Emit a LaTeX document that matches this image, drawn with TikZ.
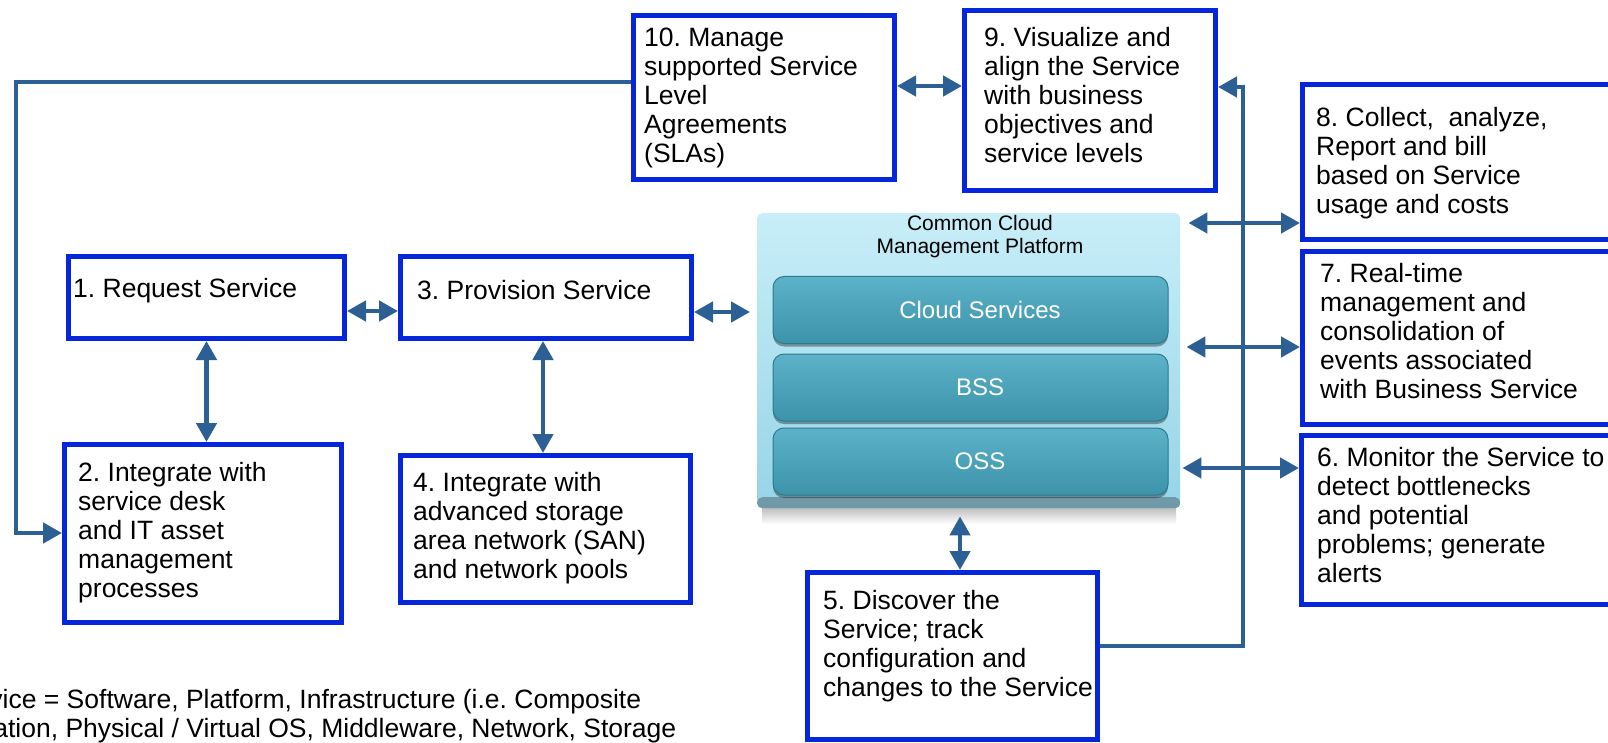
\documentclass[tikz,border=0pt]{standalone}
\usepackage{fontspec}
\setmainfont{Liberation Sans}
\usetikzlibrary{arrows.meta,shadows}
\definecolor{boxblue}{RGB}{5,38,218}
\definecolor{linkblue}{RGB}{44,96,148}
\definecolor{platlight}{RGB}{200,238,248}
\definecolor{platmain}{RGB}{150,212,232}
\definecolor{bandtop}{RGB}{142,196,212}
\definecolor{bandbot}{RGB}{112,152,166}
\definecolor{bartop}{RGB}{92,178,200}
\definecolor{barbot}{RGB}{60,147,170}
\definecolor{baredge}{RGB}{48,122,142}
\begin{document}
\frenchspacing
\begin{tikzpicture}[x=1pt,y=-1pt,
  >={Triangle[length=19pt,width=20pt]},
  box/.style={draw=boxblue, line width=5pt, fill=white, inner sep=0pt, anchor=north west},
  txt/.style={anchor=north west, inner sep=0pt, align=left, font=\fontsize{26.5}{29}\selectfont},
  conn/.style={draw=linkblue, line width=4.5pt},
  bar/.style={rounded corners=11pt, minimum width=395pt, minimum height=67pt, inner sep=0pt,
    top color=bartop, bottom color=barbot, draw=baredge, line width=1pt,
    drop shadow={shadow xshift=0pt, shadow yshift=-3pt, opacity=.35, fill=black}},
  barlab/.style={text=white, inner sep=0pt, font=\fontsize{24}{28}\selectfont}
]
\useasboundingbox (0,0) rectangle (1608,743);
\clip (0,0) rectangle (1608,743);
\fill[white] (0,0) rectangle (1608,743);

% platform
\shade[top color=black!25, bottom color=white] (762,508) rectangle (1176,524);
\node[anchor=north west, minimum width=423pt, minimum height=295pt, inner sep=0pt,
  rounded corners=5pt, top color=platlight, bottom color=platmain,
  path picture={\shade[top color=bandtop, bottom color=bandbot]
    ([yshift=11pt]path picture bounding box.south west) rectangle (path picture bounding box.south east);}]
  (plat) at (757,213) {};
\node[align=center, inner sep=0pt, font=\fontsize{21}{23}\selectfont] (ptitle) at (980,237) {Common Cloud\\Management Platform};
\node[bar] (cs) at (970.5,310) {};
\node[bar] (bss) at (970.5,387.5) {};
\node[bar] (oss) at (970.5,461.5) {};
\node[barlab] (lcs) at ([xshift=9.5pt]cs.center) {Cloud Services};
\node[barlab] (lbss) at ([xshift=9.5pt]bss.center) {BSS};
\node[barlab] (loss) at ([xshift=9.5pt]oss.center) {OSS};

% boxes
\node[box, minimum width=261pt, minimum height=164pt] (b10) at (631,13) {};
\node[box, minimum width=251pt, minimum height=180pt] (b9) at (962,8) {};
\node[box, minimum width=335pt, minimum height=155pt] (b8) at (1300,82) {};
\node[box, minimum width=335pt, minimum height=173pt] (b7) at (1300,249) {};
\node[box, minimum width=336pt, minimum height=169pt] (b6) at (1299,433) {};
\node[box, minimum width=276pt, minimum height=82pt] (b1) at (66,254) {};
\node[box, minimum width=291pt, minimum height=82pt] (b3) at (398,254) {};
\node[box, minimum width=277pt, minimum height=178pt] (b2) at (62,442) {};
\node[box, minimum width=290pt, minimum height=147pt] (b4) at (398,453) {};
\node[box, minimum width=290pt, minimum height=167pt] (b5) at (805,570) {};

% texts
\node[txt] (t10) at (644,28) {10. Manage\\supported Service\\Level\\Agreements\\(SLAs)};
\node[txt] (t9) at (984,27) {9. Visualize and\\align the Service\\with business\\objectives and\\service levels};
\node[txt] (t8) at (1316,107) {8. Collect,\ \ analyze,\\Report and bill\\based on Service\\usage and costs};
\node[txt] (t7) at (1320,263) {7. Real-time\\management and\\consolidation of\\events associated\\with Business Service};
\node[txt] (t6) at (1317,447) {6. Monitor the Service to\\detect bottlenecks\\and potential\\problems; generate\\alerts};
\node[txt] (t1) at (73,278) {1. Request Service};
\node[txt] (t3) at (417,280) {3. Provision Service};
\node[txt] (t2) at (78,462) {2. Integrate with\\service desk\\and IT asset\\management\\processes};
\node[txt] (t4) at (413,472) {4. Integrate with\\advanced storage\\area network (SAN)\\and network pools};
\node[txt] (t5) at (823,590) {5. Discover the\\Service; track\\configuration and\\changes to the Service};
\node[txt] (foot) at (-52,689) {Service = Software, Platform, Infrastructure (i.e. Composite\\\hspace*{-27pt}Application, Physical / Virtual OS, Middleware, Network, Storage};

% connectors
\coordinate (lc) at (16,533);
\coordinate (rc) at (1243,87);
\draw[conn,->] (b10.west |- 0,82) -| (lc) -- (b2.west |- lc);
\draw[conn,<->] (b10.east |- 0,86) -- (b9.west |- 0,86);
\draw[conn,<->] (b1.east |- 0,311) -- (b3.west |- 0,311);
\draw[conn,<->,shorten >=7pt] (b3.east |- 0,312) -- (plat.west |- 0,312);
\draw[conn,<->] (b1.south) -- (b2.north -| b1.south);
\draw[conn,<->] (b3.south -| 543,0) -- (b4.north -| 543,0);
\draw[conn,<->,shorten <=8pt] (plat.south -| 960,0) -- (b5.north -| 960,0);
\draw[conn,->] (b5.east |- 0,646) -| (rc) -- (b9.east |- rc);
\draw[conn,<->,shorten <=8pt] (plat.east |- 0,223) -- (b8.west |- 0,223);
\draw[conn,<->,shorten <=6pt] (plat.east |- 0,347) -- (b7.west |- 0,347);
\draw[conn,<->,shorten <=2pt] (plat.east |- 0,468) -- (b6.west |- 0,468);
\end{tikzpicture}
\end{document}
